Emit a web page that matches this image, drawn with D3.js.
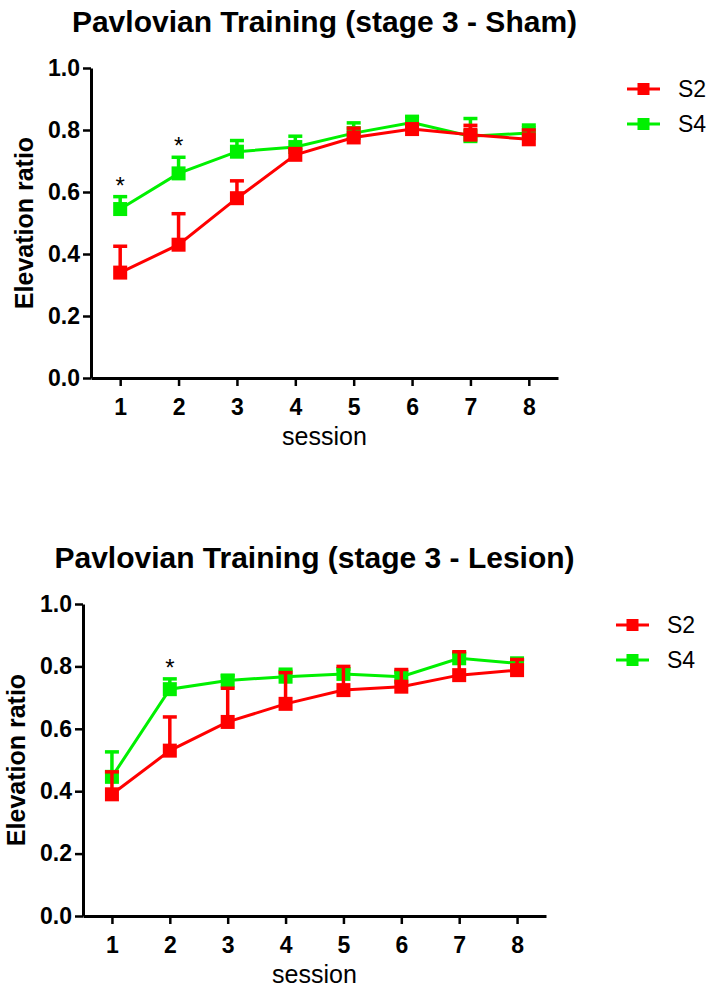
<!DOCTYPE html>
<html>
<head>
<meta charset="utf-8">
<script src="https://cdn.jsdelivr.net/npm/d3@7/dist/d3.min.js"></script>
<style>
  html, body { margin: 0; padding: 0; background: #fff; }
  svg { display: block; }
  text { font-family: "Liberation Sans", Arial, Helvetica, sans-serif; fill: #000; }
</style>
</head>
<body>
<svg id="chart" width="714" height="988"></svg>
<script>
// Sessions and tick labels
const sessions = [1, 2, 3, 4, 5, 6, 7, 8];
const yTicks = [0.0, 0.2, 0.4, 0.6, 0.8, 1.0];
const seriesNames = ["S2", "S4"];

// Sham group: mean elevation ratio and SEM per session
const shamS2Mean = [0.34, 0.43, 0.58, 0.72, 0.776, 0.803, 0.785, 0.77];
const shamS2Sem  = [0.085, 0.10, 0.056, 0.02, 0.03, 0.015, 0.03, 0.03];
const shamS4Mean = [0.545, 0.66, 0.73, 0.745, 0.79, 0.824, 0.78, 0.79];
const shamS4Sem  = [0.04, 0.052, 0.036, 0.035, 0.033, 0.02, 0.057, 0.026];
const shamStars  = [1, 2];

// Lesion group: mean elevation ratio and SEM per session
const lesionS2Mean = [0.39, 0.53, 0.622, 0.68, 0.724, 0.735, 0.772, 0.788];
const lesionS2Sem  = [0.072, 0.108, 0.108, 0.10, 0.076, 0.055, 0.075, 0.034];
const lesionS4Mean = [0.446, 0.727, 0.755, 0.767, 0.776, 0.767, 0.826, 0.81];
const lesionS4Sem  = [0.08, 0.033, 0.015, 0.024, 0.015, 0.015, 0.015, 0.01];
const lesionStars  = [2];

const colors = { S2: "#ff0000", S4: "#00f000" };

const svg = d3.select("#chart");

function panel(opts) {
  const { title, left, right, top, bottom, s2Mean, s2Sem, s4Mean, s4Sem, stars,
          titleY, yLabelX, legendX, legendY } = opts;
  const g = svg.append("g");

  const x = d3.scaleLinear().domain([0.5, 8.5]).range([left, right]);
  const y = d3.scaleLinear().domain([0, 1]).range([bottom, top]);

  // Title
  g.append("text")
    .attr("x", (left + right) / 2).attr("y", titleY)
    .attr("text-anchor", "middle")
    .style("font-size", "30px").style("font-weight", "bold")
    .text(title);

  // Axes
  const yAxis = g.append("g").attr("transform", `translate(${left},0)`)
    .call(d3.axisLeft(y).tickValues(yTicks).tickFormat(d3.format(".1f"))
      .tickSize(8).tickSizeOuter(0).tickPadding(3));
  const xAxis = g.append("g").attr("transform", `translate(0,${bottom})`)
    .call(d3.axisBottom(x).tickValues(sessions).tickFormat(d3.format("d"))
      .tickSize(8).tickSizeOuter(0).tickPadding(13));
  [yAxis, xAxis].forEach(a => {
    a.select(".domain").attr("stroke", "#000").attr("stroke-width", 3);
    a.selectAll(".tick line").attr("stroke", "#000").attr("stroke-width", 2.5);
    a.selectAll(".tick text")
      .style("font-size", "23px").style("font-weight", "bold")
      .style("font-family", '"Liberation Sans", Arial, sans-serif')
      .attr("fill", "#000");
  });

  // Axis titles
  g.append("text")
    .attr("transform", `translate(${yLabelX},${(top + bottom) / 2}) rotate(-90)`)
    .attr("text-anchor", "middle")
    .style("font-size", "25px").style("font-weight", "bold")
    .text("Elevation ratio");
  g.append("text")
    .attr("x", (left + right) / 2).attr("y", bottom + 67)
    .attr("text-anchor", "middle")
    .style("font-size", "25px")
    .text("session");

  // Series: S4 first, S2 on top
  const series = [
    { name: "S4", mean: s4Mean, sem: s4Sem },
    { name: "S2", mean: s2Mean, sem: s2Sem }
  ];
  const line = d3.line().x((d, i) => x(sessions[i])).y(d => y(d));
  const cap = 7, sq = 14;

  series.forEach(s => {
    const c = colors[s.name];
    const sg = g.append("g");
    const pts = s.mean.map((m, i) => ({ s: sessions[i], m, e: s.sem[i] }));
    sg.append("path").datum(s.mean)
      .attr("d", line).attr("fill", "none")
      .attr("stroke", c).attr("stroke-width", 3);
    sg.selectAll(".eb").data(pts).join("line")
      .attr("x1", d => x(d.s)).attr("x2", d => x(d.s))
      .attr("y1", d => y(d.m)).attr("y2", d => y(d.m + d.e))
      .attr("stroke", c).attr("stroke-width", 3.5);
    sg.selectAll(".cap").data(pts).join("line")
      .attr("x1", d => x(d.s) - cap).attr("x2", d => x(d.s) + cap)
      .attr("y1", d => y(d.m + d.e)).attr("y2", d => y(d.m + d.e))
      .attr("stroke", c).attr("stroke-width", 3.5);
    sg.selectAll(".pt").data(pts).join("rect")
      .attr("x", d => x(d.s) - sq / 2).attr("y", d => y(d.m) - sq / 2)
      .attr("width", sq).attr("height", sq).attr("fill", c);
  });

  // Significance markers above the S4 error bars
  g.selectAll(".star").data(stars).join("text")
    .attr("x", d => x(d))
    .attr("y", d => {
      const i = sessions.indexOf(d);
      return y(s4Mean[i] + s4Sem[i]) - 3;
    })
    .attr("text-anchor", "middle")
    .style("font-size", "24px")
    .text("*");

  // Legend
  ["S2", "S4"].forEach((n, k) => {
    const ly = legendY + k * 35;
    g.append("line")
      .attr("x1", legendX).attr("x2", legendX + 33)
      .attr("y1", ly).attr("y2", ly)
      .attr("stroke", colors[n]).attr("stroke-width", 3);
    g.append("rect")
      .attr("x", legendX + 16.5 - 6).attr("y", ly - 6)
      .attr("width", 12).attr("height", 12).attr("fill", colors[n]);
    g.append("text")
      .attr("x", legendX + 51).attr("y", ly + 8)
      .style("font-size", "23px")
      .text(n);
  });
}

panel({
  title: "Pavlovian Training (stage 3 - Sham)",
  left: 91, right: 558, top: 68, bottom: 378,
  s2Mean: shamS2Mean, s2Sem: shamS2Sem, s4Mean: shamS4Mean, s4Sem: shamS4Sem,
  stars: shamStars, titleY: 32, yLabelX: 33, legendX: 627, legendY: 89
});

panel({
  title: "Pavlovian Training (stage 3 - Lesion)",
  left: 83, right: 546, top: 604, bottom: 916,
  s2Mean: lesionS2Mean, s2Sem: lesionS2Sem, s4Mean: lesionS4Mean, s4Sem: lesionS4Sem,
  stars: lesionStars, titleY: 568, yLabelX: 25, legendX: 616, legendY: 625
});
</script>
</body>
</html>
